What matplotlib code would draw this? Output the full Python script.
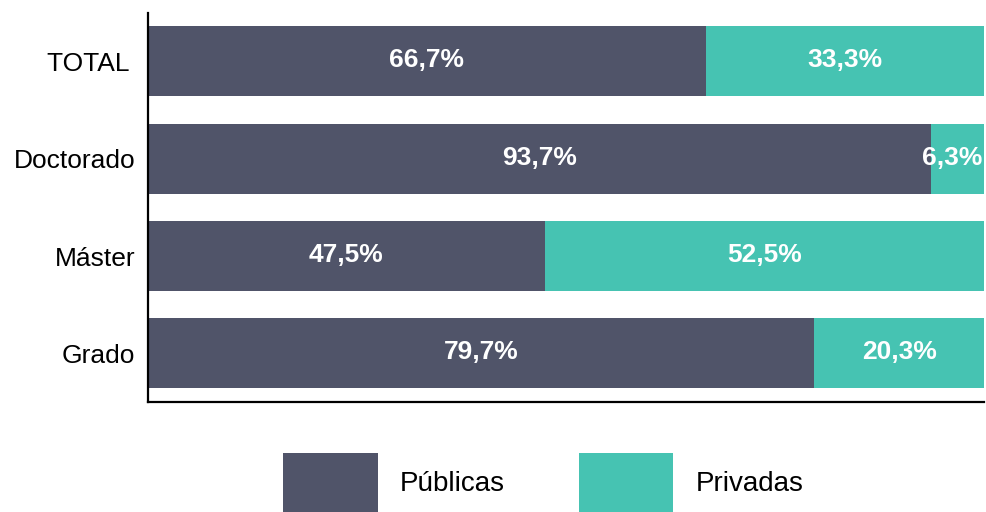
import matplotlib
matplotlib.use("Agg")
import matplotlib.pyplot as plt

categories = ["Grado", "Máster", "Doctorado", "TOTAL "]
publicas = [79.7, 47.5, 93.7, 66.7]
privadas = [20.3, 52.5, 6.3, 33.3]

col_pub = "#505469"
col_priv = "#46c3b2"

plt.rcParams["font.family"] = ["Liberation Sans", "DejaVu Sans"]

fig = plt.figure(figsize=(9.86, 5.12), dpi=100)
ax = fig.add_axes([0.150, 0.215, 0.848, 0.760])

y = range(len(categories))
ax.barh(y, publicas, height=0.72, color=col_pub, label="Públicas")
ax.barh(y, privadas, left=publicas, height=0.72, color=col_priv, label="Privadas")


def fmt(v):
    return f"{v:.1f}%".replace(".", ",")


for i in y:
    ax.text(publicas[i] / 2, i + 0.01, fmt(publicas[i]), color="white",
            fontsize=19, fontweight="bold", ha="center", va="center")
    mid = publicas[i] + privadas[i] / 2
    if privadas[i] < 10:
        ax.text(99.8, i + 0.01, fmt(privadas[i]), color="white",
                fontsize=19, fontweight="bold", ha="right", va="center")
    else:
        ax.text(mid, i + 0.01, fmt(privadas[i]), color="white",
                fontsize=19, fontweight="bold", ha="center", va="center")

ax.set_xlim(0, 100)
ax.set_ylim(-0.5, 3.5)
ax.set_yticks(list(y))
ax.set_yticklabels(categories, fontsize=19)
ax.tick_params(axis="y", length=0, pad=9)
ax.set_xticks([])
for s in ["top", "right"]:
    ax.spines[s].set_visible(False)
for s in ["left", "bottom"]:
    ax.spines[s].set_linewidth(1.6)
    ax.spines[s].set_color("black")

fig.legend(loc="center", bbox_to_anchor=(0.551, 1 - 483 / 512), ncol=2,
           frameon=False, fontsize=20, handlelength=3.4, handleheight=2.9,
           handletextpad=0.8, columnspacing=2.65)

fig.savefig("out.png", dpi=100)
